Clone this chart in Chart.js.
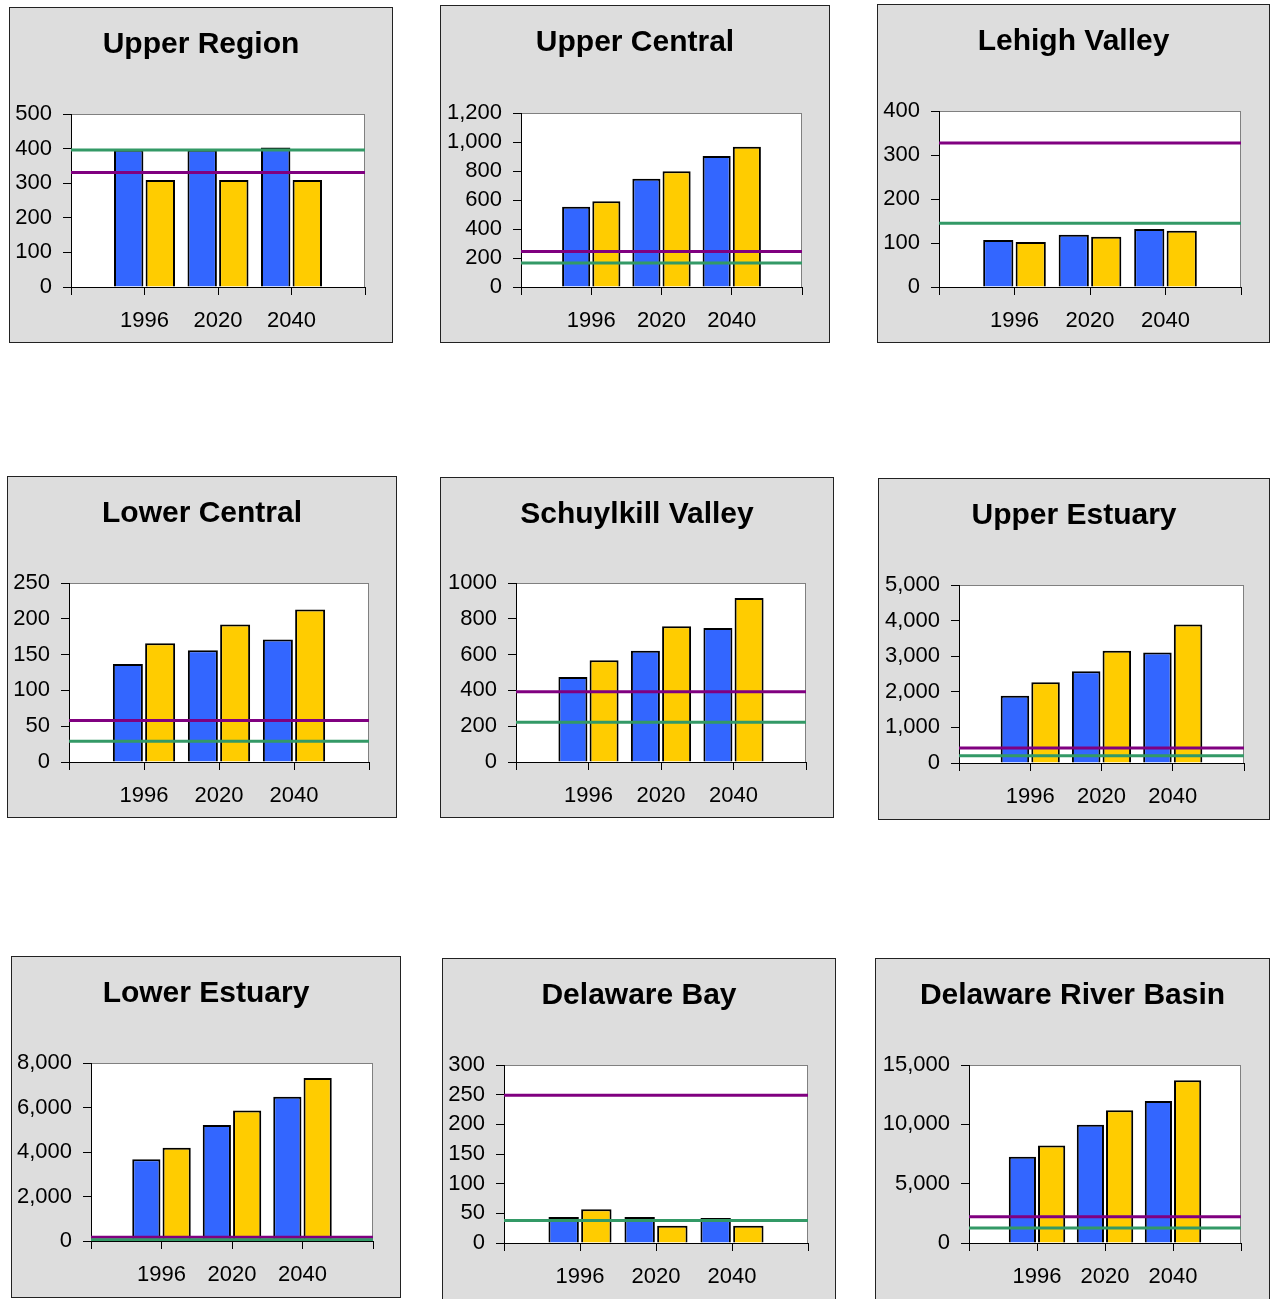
<!DOCTYPE html>
<html>
<head>
<meta charset="utf-8">
<script src="https://cdn.jsdelivr.net/npm/chart.js@4/dist/chart.umd.min.js"></script>
<style>
body { margin: 0; background: #fff; width: 1270px; height: 1299px; position: relative; overflow: hidden; }
.panel { position: absolute; background: #dddddd; border: 1px solid #222; box-sizing: border-box; }
.panel canvas { position: absolute; left: 0; top: 0; }
</style>
</head>
<body>
<script>
// chart data
const titles = ['Upper Region', 'Upper Central', 'Lehigh Valley',
                'Lower Central', 'Schuylkill Valley', 'Upper Estuary',
                'Lower Estuary', 'Delaware Bay', 'Delaware River Basin'];
const years = ['', '1996', '2020', '2040', ''];
const blueValues = [
    [397, 397, 403], [554, 747, 903], [107, 119, 132],
    [137, 156, 171], [475, 622, 748], [1888, 2579, 3103],
    [3677, 5208, 6484], [44, 44, 42], [7263, 9955, 11974]];
const yellowValues = [
    [309, 309, 309], [591, 798, 968], [102, 114, 128],
    [166, 192, 213], [568, 759, 916], [2271, 3150, 3888],
    [4188, 5869, 7325], [57, 29, 29], [8216, 11189, 13713]];
const purpleLevels = [331, 244, 327, 58, 392, 420, 170, 249, 2215];
const greenLevels = [396, 166, 145, 29, 222, 206, 60, 38, 1262];
const yMax = [500, 1200, 400, 250, 1000, 5000, 8000, 300, 15000];
const yStep = [100, 200, 100, 50, 200, 1000, 2000, 50, 5000];
const useComma = [true, true, true, true, false, true, true, true, true];

// page layout: panel box and plot box, [left, top, right, bottom]
const panels = [
    [9, 7, 393, 343], [440, 5, 830, 343], [877, 4, 1270, 343],
    [7, 476, 397, 818], [440, 477, 834, 818], [878, 478, 1270, 820],
    [11, 956, 401, 1298], [442, 958, 836, 1310], [875, 958, 1270, 1310]];
const plots = [
    [71, 114, 365, 287], [521, 113, 802, 287], [939, 111, 1241, 287],
    [69, 583, 369, 762], [516, 583, 806, 762], [959, 585, 1244, 763],
    [91, 1063, 373, 1241], [504, 1065, 808, 1243], [969, 1065, 1241, 1243]];

const FONT = '"Liberation Sans", Arial, sans-serif';

const plotFrame = {
    id: 'plotFrame',
    beforeDraw(chart) {
        const a = chart.chartArea, ctx = chart.ctx;
        ctx.save();
        ctx.fillStyle = '#ffffff';
        ctx.fillRect(a.left, a.top, a.right - a.left, a.bottom - a.top);
        ctx.strokeStyle = '#808080';
        ctx.lineWidth = 1;
        ctx.strokeRect(a.left + 0.5, a.top + 0.5, a.right - a.left - 1, a.bottom - a.top);
        ctx.restore();
    }
};

function makeChart(i)
{
    const p = panels[i], q = plots[i];
    const ox = p[0] + 1, oy = p[1] + 1;
    const cw = p[2] - p[0] - 2, ch = p[3] - p[1] - 2;
    const axisW = q[0] - ox;
    const topH = q[1] - oy;
    const padR = ox + cw - q[2];
    const axisH = oy + ch - q[3];
    const lh = 30 * 1.2;
    const titleTop = 37 - lh / 2;

    const div = document.createElement('div');
    div.className = 'panel';
    div.style.left = p[0] + 'px';
    div.style.top = p[1] + 'px';
    div.style.width = (p[2] - p[0]) + 'px';
    div.style.height = (p[3] - p[1]) + 'px';
    const ctx = document.createElement('canvas');
    ctx.width = cw;
    ctx.height = ch;
    div.appendChild(ctx);
    document.body.appendChild(div);

    const comma = useComma[i];

    new Chart(ctx, {
        type: 'bar',
        data: {
            labels: years,
            datasets: [
                {
                    type: 'line',
                    data: years.map(() => greenLevels[i]),
                    borderColor: '#339966',
                    borderWidth: 3,
                    pointRadius: 0,
                    order: 0
                },
                {
                    type: 'line',
                    data: years.map(() => purpleLevels[i]),
                    borderColor: '#800080',
                    borderWidth: 3,
                    pointRadius: 0,
                    order: 1
                },
                {
                    data: [null].concat(blueValues[i], [null]),
                    backgroundColor: '#3366ff',
                    borderColor: '#000',
                    borderWidth: 2,
                    order: 2
                },
                {
                    data: [null].concat(yellowValues[i], [null]),
                    backgroundColor: '#ffcc00',
                    borderColor: '#000',
                    borderWidth: 2,
                    order: 2
                }]
        },
        options: {
            responsive: false,
            animation: false,
            devicePixelRatio: 1,
            categoryPercentage: 0.86,
            barPercentage: 0.93,
            layout: { padding: 0 },
            plugins: {
                legend: { display: false },
                tooltip: { enabled: false },
                title: {
                    display: true,
                    text: titles[i],
                    color: '#000',
                    font: { family: FONT, size: 30, weight: 'bold' },
                    padding: { top: titleTop, bottom: topH - lh - titleTop }
                }
            },
            scales: {
                x: {
                    type: 'category',
                    offset: false,
                    grid: { offset: false, drawOnChartArea: false, drawTicks: true, tickLength: 8, color: '#000' },
                    border: { color: '#000', width: 1 },
                    ticks: { autoSkip: false, maxRotation: 0, padding: 13, color: '#000', font: { family: FONT, size: 22 } },
                    afterFit(s) { s.height = axisH; }
                },
                y: {
                    min: 0,
                    max: yMax[i],
                    grid: { drawOnChartArea: false, drawTicks: true, tickLength: 8, color: '#000' },
                    border: { color: '#000', width: 1 },
                    ticks: {
                        stepSize: yStep[i],
                        autoSkip: false,
                        padding: 11,
                        color: '#000',
                        font: { family: FONT, size: 22 },
                        callback: v => comma ? v.toLocaleString('en-US') : String(v)
                    },
                    afterFit(s) { s.width = axisW; }
                },
                yr: {
                    type: 'linear',
                    position: 'right',
                    grid: { drawOnChartArea: false, drawTicks: false },
                    border: { display: false },
                    ticks: { display: false },
                    afterFit(s) { s.width = padR; }
                }
            }
        },
        plugins: [plotFrame]
    });
}

for (let i = 0; i < titles.length; i++) {
    makeChart(i);
}
</script>
</body>
</html>
